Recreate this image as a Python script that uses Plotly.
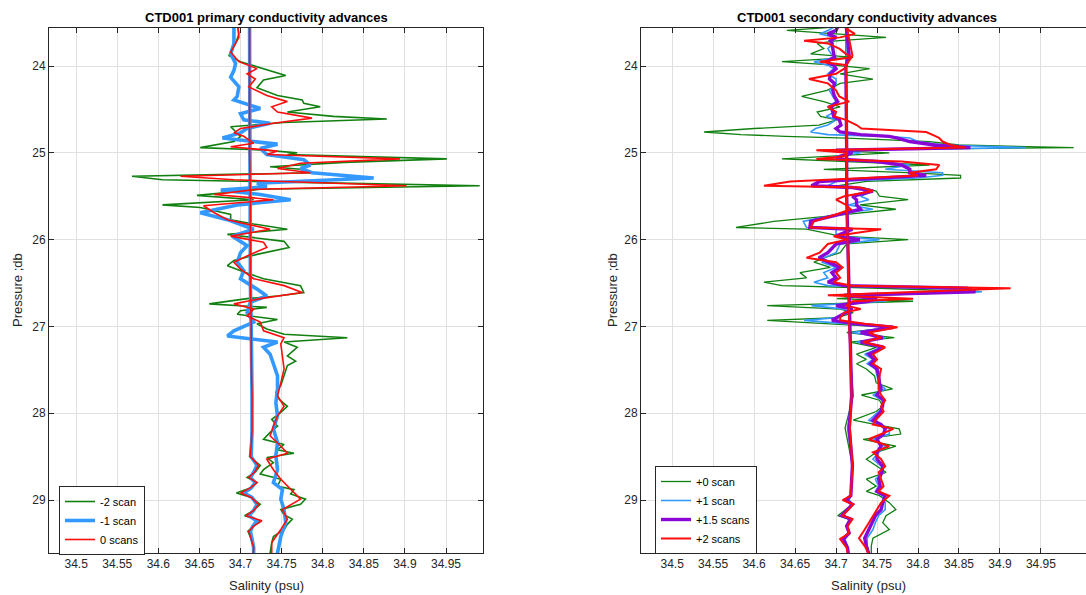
import plotly.graph_objects as go

# ---------------- data: left panel (primary conductivity) ----------------
left_green_p = [23.50, 23.57, 23.63, 23.74, 23.84, 23.88, 23.95, 24.03, 24.11, 24.16, 24.25, 24.34, 24.39, 24.43, 24.47, 24.53, 24.58, 24.61, 24.65, 24.70, 24.74, 24.77, 24.81, 24.87, 24.94, 24.97, 25.00, 25.02, 25.07, 25.11, 25.16, 25.19, 25.23, 25.27, 25.31, 25.34, 25.38, 25.42, 25.49, 25.54, 25.60, 25.63, 25.71, 25.77, 25.82, 25.88, 25.94, 26.02, 26.09, 26.17, 26.24, 26.30, 26.38, 26.45, 26.53, 26.61, 26.65, 26.68, 26.74, 26.78, 26.82, 26.86, 26.92, 26.97, 27.03, 27.09, 27.13, 27.18, 27.24, 27.34, 27.40, 27.45, 27.57, 27.68, 27.76, 27.84, 27.92, 27.99, 28.07, 28.15, 28.22, 28.30, 28.36, 28.42, 28.46, 28.51, 28.57, 28.65, 28.70, 28.76, 28.84, 28.88, 28.93, 28.99, 29.05, 29.11, 29.17, 29.22, 29.28, 29.34, 29.42, 29.49, 29.61, 29.70]
left_green_s = [34.697, 34.697, 34.698, 34.694, 34.688, 34.686, 34.700, 34.728, 34.755, 34.728, 34.720, 34.745, 34.775, 34.777, 34.797, 34.757, 34.813, 34.878, 34.753, 34.688, 34.692, 34.696, 34.700, 34.692, 34.651, 34.732, 34.769, 34.757, 34.951, 34.826, 34.736, 34.773, 34.789, 34.568, 34.605, 34.773, 34.991, 34.724, 34.647, 34.716, 34.605, 34.651, 34.688, 34.688, 34.716, 34.757, 34.684, 34.753, 34.759, 34.720, 34.692, 34.684, 34.706, 34.728, 34.773, 34.777, 34.745, 34.708, 34.662, 34.732, 34.700, 34.696, 34.745, 34.720, 34.732, 34.753, 34.830, 34.753, 34.769, 34.757, 34.767, 34.757, 34.753, 34.749, 34.743, 34.747, 34.757, 34.749, 34.738, 34.745, 34.736, 34.728, 34.753, 34.745, 34.765, 34.732, 34.740, 34.728, 34.724, 34.749, 34.745, 34.765, 34.761, 34.779, 34.773, 34.749, 34.753, 34.763, 34.757, 34.753, 34.740, 34.738, 34.736, 34.736]

left_blue_p = [23.50, 23.57, 23.74, 23.86, 23.97, 24.05, 24.13, 24.24, 24.35, 24.39, 24.49, 24.55, 24.62, 24.66, 24.72, 24.77, 24.83, 24.87, 24.90, 24.95, 25.02, 25.08, 25.14, 25.18, 25.23, 25.29, 25.35, 25.39, 25.43, 25.48, 25.54, 25.60, 25.69, 25.77, 25.88, 25.96, 26.07, 26.15, 26.26, 26.36, 26.45, 26.57, 26.65, 26.72, 26.84, 26.95, 27.05, 27.11, 27.15, 27.18, 27.24, 27.32, 27.43, 27.57, 27.72, 27.88, 28.03, 28.18, 28.34, 28.49, 28.65, 28.80, 28.88, 28.99, 29.11, 29.26, 29.42, 29.61, 29.70]
left_blue_s = [34.692, 34.692, 34.692, 34.688, 34.694, 34.692, 34.688, 34.698, 34.696, 34.692, 34.724, 34.700, 34.704, 34.736, 34.708, 34.700, 34.678, 34.716, 34.745, 34.724, 34.732, 34.777, 34.785, 34.773, 34.787, 34.862, 34.720, 34.732, 34.676, 34.724, 34.761, 34.696, 34.651, 34.684, 34.716, 34.690, 34.708, 34.700, 34.696, 34.704, 34.700, 34.720, 34.732, 34.712, 34.708, 34.716, 34.692, 34.684, 34.716, 34.745, 34.728, 34.736, 34.740, 34.745, 34.745, 34.743, 34.745, 34.740, 34.745, 34.743, 34.745, 34.740, 34.751, 34.749, 34.753, 34.755, 34.749, 34.745, 34.745]

left_red_p = [23.50, 23.57, 23.67, 23.84, 23.95, 24.03, 24.09, 24.15, 24.24, 24.34, 24.41, 24.47, 24.53, 24.60, 24.66, 24.72, 24.77, 24.81, 24.89, 24.93, 24.98, 25.02, 25.07, 25.12, 25.18, 25.23, 25.27, 25.31, 25.38, 25.42, 25.48, 25.54, 25.61, 25.69, 25.77, 25.88, 25.96, 26.03, 26.09, 26.17, 26.26, 26.34, 26.45, 26.53, 26.61, 26.68, 26.74, 26.80, 26.88, 26.95, 27.05, 27.13, 27.20, 27.34, 27.49, 27.65, 27.80, 27.92, 28.03, 28.15, 28.26, 28.38, 28.46, 28.53, 28.65, 28.76, 28.88, 28.99, 29.11, 29.22, 29.34, 29.49, 29.61, 29.70]
left_red_s = [34.697, 34.697, 34.698, 34.688, 34.698, 34.720, 34.708, 34.718, 34.710, 34.732, 34.757, 34.738, 34.745, 34.787, 34.740, 34.700, 34.692, 34.704, 34.716, 34.688, 34.745, 34.732, 34.894, 34.773, 34.745, 34.785, 34.627, 34.692, 34.902, 34.720, 34.668, 34.740, 34.655, 34.668, 34.684, 34.736, 34.688, 34.728, 34.732, 34.712, 34.692, 34.700, 34.716, 34.753, 34.775, 34.724, 34.692, 34.716, 34.708, 34.724, 34.728, 34.753, 34.749, 34.751, 34.753, 34.749, 34.745, 34.753, 34.745, 34.740, 34.736, 34.749, 34.757, 34.732, 34.740, 34.749, 34.761, 34.773, 34.751, 34.757, 34.749, 34.738, 34.738, 34.738]

# return (near-vertical) branch of the left panel
left_return_p = [29.70, 29.55, 29.45, 29.36, 29.30, 29.24, 29.18, 29.12, 29.05, 28.97, 28.92, 28.86, 28.80, 28.74, 28.68, 28.60, 28.50, 28.20, 27.80, 27.40, 27.00, 26.50, 26.00, 25.50, 25.00, 24.50, 24.00, 23.50]
left_green_ret = [34.715, 34.716, 34.713, 34.709, 34.716, 34.724, 34.705, 34.716, 34.724, 34.713, 34.695, 34.712, 34.720, 34.708, 34.718, 34.724, 34.711, 34.714, 34.714, 34.713, 34.713, 34.712, 34.712, 34.712, 34.711, 34.711, 34.711, 34.711]
left_blue_ret = [34.716, 34.716, 34.714, 34.712, 34.715, 34.720, 34.710, 34.716, 34.720, 34.714, 34.704, 34.713, 34.718, 34.712, 34.716, 34.720, 34.713, 34.714, 34.714, 34.713, 34.713, 34.712, 34.712, 34.712, 34.711, 34.711, 34.711, 34.711]
left_red_ret = [34.715, 34.716, 34.713, 34.710, 34.716, 34.726, 34.707, 34.716, 34.722, 34.713, 34.700, 34.712, 34.720, 34.710, 34.717, 34.722, 34.712, 34.714, 34.714, 34.713, 34.713, 34.712, 34.712, 34.712, 34.711, 34.711, 34.711, 34.711]

# ---------------- data: right panel (secondary conductivity) ----------------
right_p = [23.55, 23.59, 23.63, 23.67, 23.71, 23.74, 23.80, 23.86, 23.90, 23.95, 23.99, 24.03, 24.09, 24.15, 24.20, 24.28, 24.35, 24.41, 24.47, 24.53, 24.58, 24.62, 24.68, 24.72, 24.76, 24.79, 24.81, 24.83, 24.87, 24.91, 24.94, 24.97, 25.00, 25.04, 25.07, 25.10, 25.14, 25.19, 25.23, 25.26, 25.29, 25.33, 25.38, 25.40, 25.44, 25.50, 25.54, 25.60, 25.65, 25.71, 25.79, 25.86, 25.88, 25.96, 26.00, 26.05, 26.15, 26.21, 26.26, 26.32, 26.38, 26.44, 26.49, 26.53, 26.56, 26.60, 26.64, 26.68, 26.71, 26.76, 26.80, 26.84, 26.90, 26.93, 26.97, 27.01, 27.07, 27.13, 27.18, 27.24, 27.32, 27.38, 27.43, 27.49, 27.57, 27.65, 27.72, 27.79, 27.85, 27.92, 27.98, 28.08, 28.13, 28.18, 28.24, 28.30, 28.38, 28.45, 28.53, 28.61, 28.68, 28.76, 28.84, 28.90, 28.95, 29.03, 29.11, 29.18, 29.26, 29.34, 29.44, 29.53, 29.62]
right_green_s = [34.700, 34.640, 34.700, 34.761, 34.700, 34.677, 34.685, 34.669, 34.721, 34.634, 34.697, 34.741, 34.705, 34.745, 34.705, 34.689, 34.658, 34.685, 34.705, 34.677, 34.681, 34.701, 34.679, 34.600, 34.539, 34.584, 34.638, 34.713, 34.814, 34.850, 34.990, 34.677, 34.765, 34.683, 34.634, 34.713, 34.814, 34.685, 34.794, 34.852, 34.852, 34.737, 34.701, 34.733, 34.749, 34.753, 34.788, 34.729, 34.773, 34.713, 34.624, 34.578, 34.664, 34.705, 34.788, 34.713, 34.705, 34.685, 34.673, 34.693, 34.656, 34.664, 34.612, 34.634, 34.753, 34.876, 34.760, 34.701, 34.794, 34.616, 34.705, 34.721, 34.701, 34.616, 34.701, 34.769, 34.713, 34.771, 34.717, 34.749, 34.725, 34.737, 34.725, 34.737, 34.747, 34.749, 34.769, 34.731, 34.753, 34.757, 34.749, 34.721, 34.749, 34.777, 34.779, 34.733, 34.773, 34.749, 34.737, 34.749, 34.761, 34.737, 34.749, 34.737, 34.753, 34.765, 34.773, 34.761, 34.757, 34.765, 34.745, 34.743, 34.743]
right_blue_s = [34.698, 34.690, 34.680, 34.700, 34.696, 34.696, 34.690, 34.694, 34.700, 34.673, 34.690, 34.697, 34.690, 34.700, 34.700, 34.692, 34.696, 34.700, 34.690, 34.698, 34.688, 34.700, 34.690, 34.675, 34.669, 34.690, 34.760, 34.790, 34.800, 34.830, 34.931, 34.690, 34.730, 34.700, 34.690, 34.740, 34.790, 34.760, 34.830, 34.830, 34.800, 34.700, 34.690, 34.720, 34.745, 34.730, 34.740, 34.715, 34.745, 34.700, 34.660, 34.664, 34.700, 34.700, 34.753, 34.705, 34.700, 34.685, 34.683, 34.700, 34.685, 34.690, 34.673, 34.690, 34.820, 34.878, 34.720, 34.740, 34.760, 34.670, 34.710, 34.715, 34.700, 34.661, 34.715, 34.765, 34.720, 34.760, 34.725, 34.755, 34.735, 34.745, 34.738, 34.748, 34.750, 34.752, 34.760, 34.745, 34.757, 34.758, 34.752, 34.740, 34.752, 34.765, 34.765, 34.745, 34.760, 34.752, 34.745, 34.755, 34.758, 34.748, 34.752, 34.748, 34.757, 34.760, 34.760, 34.752, 34.748, 34.745, 34.738, 34.738, 34.740]
right_purple_s = [34.702, 34.700, 34.690, 34.700, 34.693, 34.695, 34.696, 34.697, 34.698, 34.688, 34.697, 34.700, 34.693, 34.692, 34.698, 34.696, 34.698, 34.702, 34.694, 34.696, 34.697, 34.704, 34.706, 34.700, 34.705, 34.730, 34.765, 34.775, 34.790, 34.820, 34.864, 34.700, 34.720, 34.705, 34.700, 34.750, 34.780, 34.790, 34.790, 34.810, 34.760, 34.680, 34.670, 34.720, 34.745, 34.720, 34.725, 34.725, 34.730, 34.705, 34.669, 34.668, 34.720, 34.700, 34.729, 34.700, 34.690, 34.679, 34.690, 34.705, 34.695, 34.700, 34.690, 34.710, 34.860, 34.870, 34.710, 34.750, 34.740, 34.700, 34.720, 34.712, 34.700, 34.695, 34.725, 34.770, 34.730, 34.757, 34.730, 34.758, 34.740, 34.747, 34.742, 34.750, 34.752, 34.753, 34.755, 34.750, 34.758, 34.756, 34.755, 34.745, 34.755, 34.760, 34.758, 34.750, 34.755, 34.750, 34.750, 34.757, 34.756, 34.752, 34.754, 34.750, 34.760, 34.757, 34.755, 34.748, 34.744, 34.740, 34.735, 34.737, 34.740]
right_red_s = [34.712, 34.716, 34.723, 34.705, 34.661, 34.690, 34.704, 34.712, 34.720, 34.680, 34.714, 34.710, 34.700, 34.667, 34.690, 34.700, 34.704, 34.716, 34.690, 34.700, 34.698, 34.712, 34.725, 34.731, 34.810, 34.818, 34.822, 34.826, 34.830, 34.840, 34.858, 34.676, 34.713, 34.710, 34.676, 34.780, 34.826, 34.822, 34.790, 34.800, 34.740, 34.644, 34.612, 34.730, 34.745, 34.710, 34.700, 34.712, 34.718, 34.700, 34.673, 34.669, 34.755, 34.697, 34.713, 34.690, 34.680, 34.664, 34.700, 34.708, 34.700, 34.705, 34.697, 34.720, 34.913, 34.800, 34.690, 34.794, 34.720, 34.712, 34.730, 34.710, 34.705, 34.705, 34.735, 34.775, 34.740, 34.755, 34.733, 34.760, 34.745, 34.750, 34.745, 34.755, 34.753, 34.752, 34.752, 34.755, 34.760, 34.755, 34.758, 34.748, 34.745, 34.770, 34.755, 34.740, 34.765, 34.745, 34.755, 34.760, 34.752, 34.755, 34.758, 34.752, 34.765, 34.755, 34.750, 34.745, 34.740, 34.735, 34.728, 34.735, 34.740]

right_return_p = [29.70, 29.55, 29.45, 29.38, 29.30, 29.22, 29.18, 29.12, 29.05, 29.00, 28.95, 28.60, 28.17, 27.80, 27.40, 27.00, 26.50, 26.00, 25.50, 25.00, 24.50, 24.00, 23.88, 23.50]
right_green_ret = [34.716, 34.714, 34.710, 34.716, 34.712, 34.716, 34.702, 34.710, 34.720, 34.716, 34.718, 34.720, 34.711, 34.721, 34.718, 34.716, 34.715, 34.714, 34.713, 34.713, 34.712, 34.712, 34.712, 34.712]
right_blue_ret = [34.716, 34.714, 34.711, 34.716, 34.713, 34.717, 34.706, 34.712, 34.720, 34.715, 34.718, 34.720, 34.714, 34.720, 34.718, 34.716, 34.715, 34.714, 34.713, 34.713, 34.712, 34.712, 34.714, 34.712]
right_purple_ret = [34.716, 34.714, 34.709, 34.716, 34.713, 34.718, 34.707, 34.713, 34.720, 34.712, 34.718, 34.720, 34.716, 34.719, 34.718, 34.716, 34.715, 34.714, 34.713, 34.713, 34.712, 34.712, 34.716, 34.712]
right_red_ret = [34.716, 34.713, 34.705, 34.716, 34.714, 34.720, 34.708, 34.714, 34.721, 34.708, 34.718, 34.720, 34.717, 34.719, 34.718, 34.716, 34.715, 34.714, 34.713, 34.713, 34.713, 34.712, 34.720, 34.712]

x_tick_vals = [34.5, 34.55, 34.6, 34.65, 34.7, 34.75, 34.8, 34.85, 34.9, 34.95]
x_tick_text = ["34.5", "34.55", "34.6", "34.65", "34.7", "34.75", "34.8", "34.85", "34.9", "34.95"]
y_tick_vals = [24, 25, 26, 27, 28, 29]

left_names = ["-2 scan", "-1 scan", "0 scans"]
right_names = ["+0 scan", "+1 scan", "+1.5 scans", "+2 scans"]

for a, b in [(left_green_p, left_green_s), (left_blue_p, left_blue_s), (left_red_p, left_red_s)]:
    assert len(a) == len(b), (len(a), len(b))
for s in [right_green_s, right_blue_s, right_purple_s, right_red_s]:
    assert len(s) == len(right_p), (len(s), len(right_p))
for s in [left_green_ret, left_blue_ret, left_red_ret]:
    assert len(s) == len(left_return_p)
for s in [right_green_ret, right_blue_ret, right_purple_ret, right_red_ret]:
    assert len(s) == len(right_return_p)

GREEN = "#118011"
BLUE = "#3399ff"
PURPLE = "#8a06d6"
RED = "#ff0d0d"
AX = "#262626"
GRID = "#e0e0e0"
FONT = "Liberation Sans, Arial"


def joined(p1, s1, p2, s2):
    return list(s1) + [None] + list(s2), list(p1) + [None] + list(p2)


fig = go.Figure()

left_series = [
    (left_names[0], left_green_p, left_green_s, left_green_ret, GREEN, 1.6),
    (left_names[1], left_blue_p, left_blue_s, left_blue_ret, BLUE, 3.6),
    (left_names[2], left_red_p, left_red_s, left_red_ret, RED, 1.6),
]
for name, p, s, ret, col, w in left_series:
    xs, ys = joined(p, s, left_return_p, ret)
    fig.add_trace(go.Scatter(x=xs, y=ys, mode="lines", name=name,
                             line=dict(color=col, width=w),
                             xaxis="x", yaxis="y", legend="legend",
                             connectgaps=False))

right_series = [
    (right_names[0], right_green_s, right_green_ret, GREEN, 1.3),
    (right_names[1], right_blue_s, right_blue_ret, BLUE, 1.6),
    (right_names[2], right_purple_s, right_purple_ret, PURPLE, 3.4),
    (right_names[3], right_red_s, right_red_ret, RED, 2.0),
]
for name, s, ret, col, w in right_series:
    xs, ys = joined(right_p, s, right_return_p, ret)
    fig.add_trace(go.Scatter(x=xs, y=ys, mode="lines", name=name,
                             line=dict(color=col, width=w),
                             xaxis="x2", yaxis="y2", legend="legend2",
                             connectgaps=False))

W, H = 1086, 595
top_px, bot_px = 28, 553
ydom = [1 - bot_px / H, 1 - top_px / H]

common_x = dict(tickmode="array", tickvals=x_tick_vals, ticktext=x_tick_text,
                ticks="inside", ticklen=5, tickcolor=AX, tickwidth=1,
                showline=True, linecolor=AX, linewidth=1,
                showgrid=True, gridcolor=GRID, gridwidth=1, zeroline=False,
                tickfont=dict(family=FONT, size=12, color=AX))
common_y = dict(tickmode="array", tickvals=y_tick_vals,
                ticktext=[str(v) for v in y_tick_vals],
                ticks="inside", ticklen=5, tickcolor=AX, tickwidth=1,
                showline=True, linecolor=AX, linewidth=1,
                showgrid=True, gridcolor=GRID, gridwidth=1, zeroline=False,
                range=[29.61, 23.562],
                tickfont=dict(family=FONT, size=12, color=AX))

fig.update_layout(
    width=W, height=H,
    margin=dict(l=0, r=0, t=0, b=0),
    paper_bgcolor="white", plot_bgcolor="white",
    xaxis=dict(domain=[49 / W, 483 / W], range=[34.467, 34.995], anchor="y",
               mirror="ticks", **common_x),
    yaxis=dict(domain=ydom, anchor="x", mirror="ticks", **common_y),
    xaxis2=dict(domain=[641 / W, 1.0], range=[34.462, 35.005], anchor="y2",
                mirror="ticks", **common_x),
    yaxis2=dict(domain=ydom, anchor="x2", mirror=False, **common_y),
    legend=dict(x=59 / W, y=1 - 486 / H, xanchor="left", yanchor="top",
                bgcolor="white", bordercolor=AX, borderwidth=1,
                font=dict(family=FONT, size=11, color="black"),
                tracegroupgap=0, itemwidth=30),
    legend2=dict(x=655 / W, y=1 - 466 / H, xanchor="left", yanchor="top",
                 bgcolor="white", bordercolor=AX, borderwidth=1,
                 font=dict(family=FONT, size=11, color="black"),
                 tracegroupgap=0, itemwidth=30),
    showlegend=True,
)

titles = [
    ("CTD001 primary conductivity advances", 266),
    ("CTD001 secondary conductivity advances", 867),
]
for txt, xc in titles:
    fig.add_annotation(text="<b>" + txt + "</b>", x=xc / W, y=1 - 17 / H,
                       xref="paper", yref="paper", showarrow=False,
                       xanchor="center", yanchor="middle",
                       font=dict(family=FONT, size=13, color="black"))

for xc in [266, 868]:
    fig.add_annotation(text="Salinity (psu)", x=xc / W, y=1 - 585 / H,
                       xref="paper", yref="paper", showarrow=False,
                       xanchor="center", yanchor="middle",
                       font=dict(family=FONT, size=13, color=AX))

for xc in [17, 612]:
    fig.add_annotation(text="Pressure ;db", x=xc / W, y=1 - 290 / H,
                       xref="paper", yref="paper", showarrow=False, textangle=-90,
                       xanchor="center", yanchor="middle",
                       font=dict(family=FONT, size=13, color=AX))

fig.write_html("out.html", config={"displayModeBar": False})
